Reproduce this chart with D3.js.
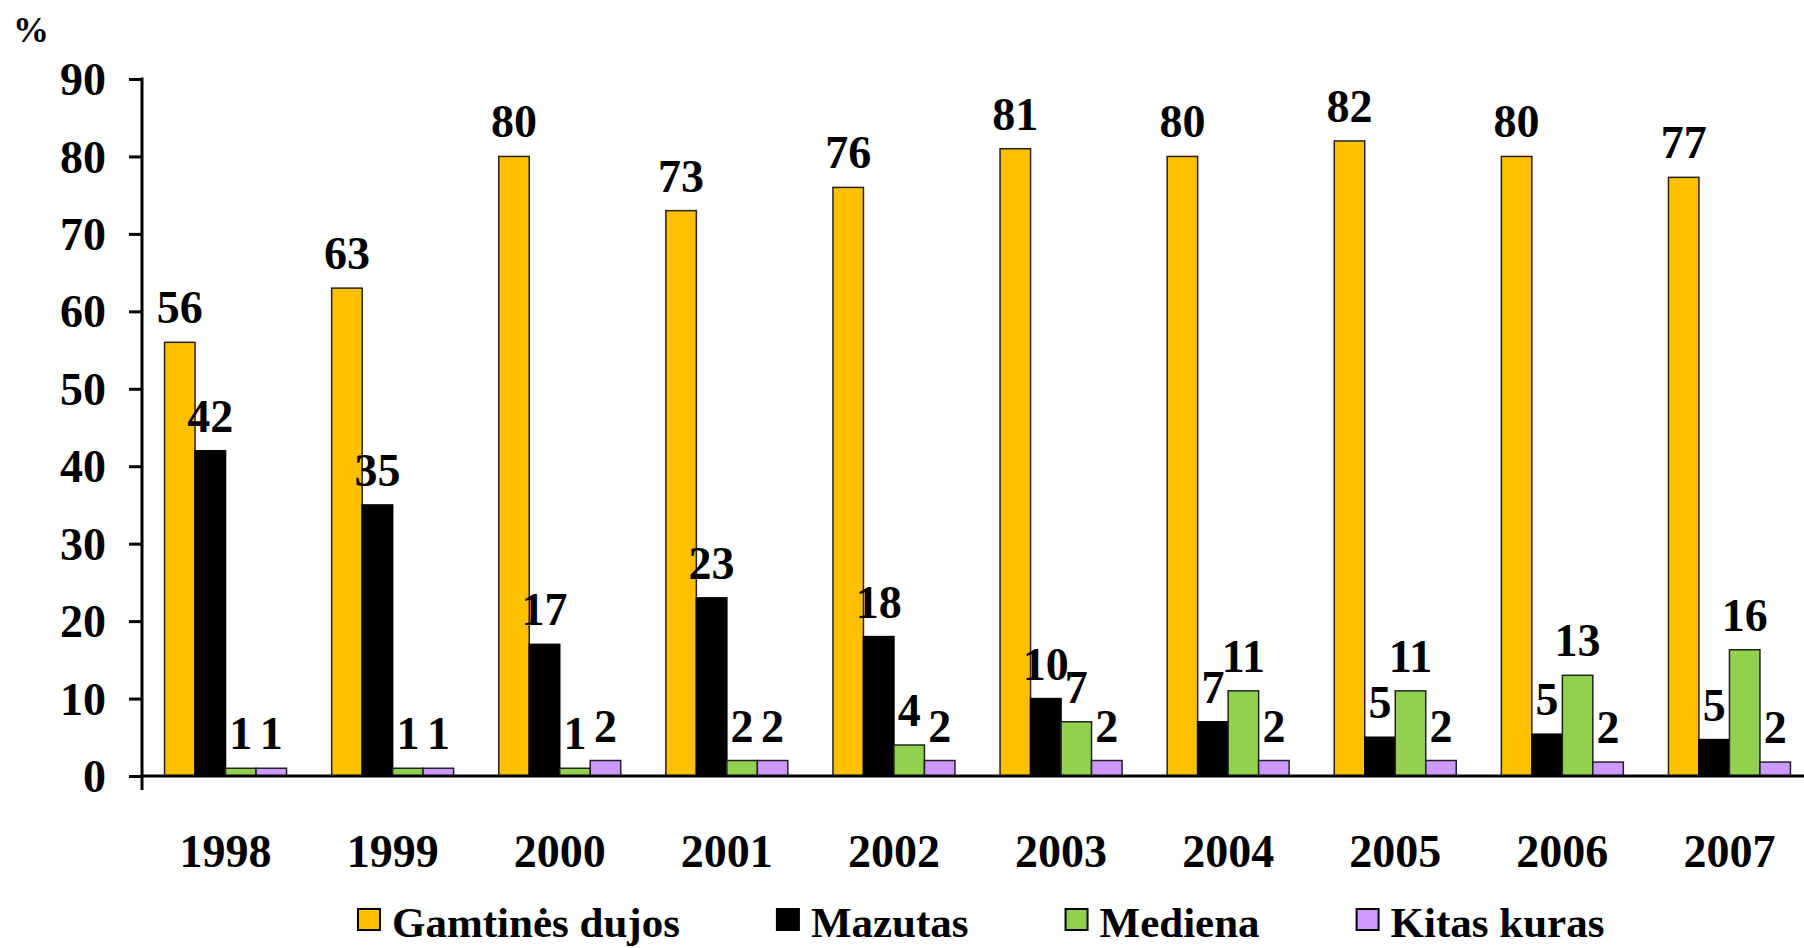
<!DOCTYPE html>
<html><head><meta charset="utf-8">
<script src="https://cdn.jsdelivr.net/npm/d3@7/dist/d3.min.js"></script>
<style>body{margin:0;background:#fff;}svg{display:block;}</style>
</head><body>
<svg id="c" width="1804" height="948"></svg>
<script>
const years = ["1998","1999","2000","2001","2002","2003","2004","2005","2006","2007"];
const seriesNames = ["Gamtinės dujos","Mazutas","Mediena","Kitas kuras"];
const gamtinesDujos = [56, 63, 80, 73, 76, 81, 80, 82, 80, 77.3];
const mazutas = [42, 35, 17, 23, 18, 10, 7, 5, 5.4, 4.7];
const mediena = [1, 1, 1, 2, 4, 7, 11, 11, 13, 16.3];
const kitasKuras = [1, 1, 2, 2, 2, 2, 2, 2, 1.8, 1.8];
const yTicks = [0,10,20,30,40,50,60,70,80,90];
const colors = ["#FFC000","#000000","#92D050","#CC99FF"];

const series = [gamtinesDujos, mazutas, mediena, kitasKuras];
const svg = d3.select("#c");
const font = "'Liberation Serif','Times New Roman',serif";
const fs = 46;

const y = d3.scaleLinear().domain([0,90]).range([776,79]);
const x = d3.scaleBand().domain(years).range([142,1813]).paddingInner(0.27).paddingOuter(0.135);
const xs = d3.scaleBand().domain(d3.range(4)).range([0,x.bandwidth()]);

// bars
const g = svg.append("g");
years.forEach((yr,i)=>{
  const gg = g.append("g").attr("transform",`translate(${x(yr)},0)`);
  series.forEach((s,j)=>{
    gg.append("rect")
      .attr("x", xs(j)).attr("width", xs.bandwidth())
      .attr("y", y(s[i])).attr("height", y(0)-y(s[i]))
      .attr("fill", colors[j])
      .attr("stroke", j===1 ? "#000" : "#222").attr("stroke-width", 1.5);
  });
  series.forEach((s,j)=>{
    gg.append("text")
      .attr("x", xs(j)+xs.bandwidth()/2).attr("y", y(s[i])-19)
      .attr("text-anchor","middle")
      .attr("font-family",font).attr("font-weight","bold").attr("font-size",fs)
      .attr("fill","#000")
      .text(Math.round(s[i]));
  });
});

// y axis
const yAxis = d3.axisLeft(y).tickValues(yTicks).tickSize(13).tickPadding(23).tickFormat(d3.format("d"));
const ya = svg.append("g").attr("transform","translate(142,0)").call(yAxis);
ya.select(".domain").remove();
ya.selectAll(".tick line").attr("stroke","#000").attr("stroke-width",3);
ya.selectAll(".tick text").attr("font-family",font).attr("font-weight","bold").attr("font-size",fs).attr("fill","#000").attr("dy","0.34em");
svg.append("line").attr("x1",142).attr("x2",142).attr("y1",y(90)-1.5).attr("y2",790).attr("stroke","#000").attr("stroke-width",3);

// x axis
svg.append("line").attr("x1",142).attr("x2",1813).attr("y1",y(0)).attr("y2",y(0)).attr("stroke","#000").attr("stroke-width",3);
const xAxis = d3.axisBottom(x).tickSize(0).tickPadding(0);
const xa = svg.append("g").attr("transform",`translate(0,${y(0)})`).call(xAxis);
xa.select(".domain").remove();
xa.selectAll(".tick text").attr("font-family",font).attr("font-weight","bold").attr("font-size",fs).attr("fill","#000").attr("dy",null).attr("y",91);

// % label
svg.append("text").attr("x",13).attr("y",42).attr("font-family",font).attr("font-weight","bold").attr("font-size",36).text("%");

// legend
const lg = svg.append("g");
let lx = 358;
seriesNames.forEach((n,j)=>{
  lg.append("rect").attr("x",lx).attr("y",909).attr("width",22).attr("height",21)
    .attr("fill",colors[j]).attr("stroke","#000").attr("stroke-width",2);
  const t = lg.append("text").attr("x",lx+34).attr("y",937)
    .attr("font-family",font).attr("font-weight","bold").attr("font-size",43).text(n);
  const w = t.node().getComputedTextLength();
  lx = lx + 34 + w + 97;
});
</script>
</body></html>
